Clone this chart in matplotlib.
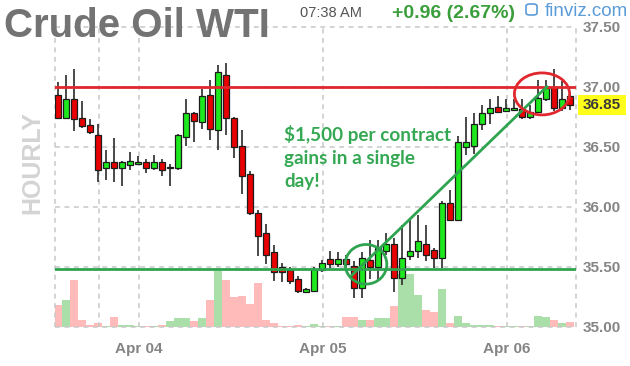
import matplotlib
matplotlib.use("Agg")
import matplotlib.pyplot as plt
import matplotlib.transforms as mtransforms
from matplotlib.patches import Ellipse, Rectangle, FancyBboxPatch
import numpy as np

# ---------------- data ----------------
date_labels = ["Apr 04", "Apr 05", "Apr 06"]
day_starts = [10.125, 33.125, 56.125]      # candle-index position of each day boundary
extra_grid = [5.125]                       # session-open grid line
price_ticks = [35.00, 35.50, 36.00, 36.50, 37.00, 37.50]

opens = [36.93, 36.74, 36.90, 36.74, 36.68, 36.60, 36.32, 36.375, 36.32, 36.35,
         36.36, 36.375, 36.32, 36.375, 36.32, 36.32, 36.58, 36.78, 36.71, 36.93,
         36.64, 37.10, 36.74, 36.51, 36.27, 35.95, 35.78, 35.62, 35.50, 35.47,
         35.40, 35.29, 35.30, 35.47, 35.56, 35.52, 35.56, 35.51, 35.32, 35.555,
         35.50, 35.63, 35.69, 35.41, 35.59, 35.63, 35.69, 35.64, 35.57, 36.03,
         35.89, 36.50, 36.51, 36.69, 36.78, 36.83, 36.80, 36.81, 36.81, 36.75,
         36.79, 36.90, 37.00, 36.82, 36.92]
highs = [37.04, 37.10, 37.15, 36.88, 36.73, 36.69, 36.47, 36.57, 36.38, 36.46,
         36.42, 36.40, 36.43, 36.40, 36.36, 36.61, 36.90, 36.79, 36.98, 37.06,
         37.185, 37.20, 36.75, 36.64, 36.30, 35.97, 35.86, 35.68, 35.53, 35.50,
         35.42, 35.32, 35.50, 35.56, 35.63, 35.62, 35.60, 35.55, 35.62, 35.72,
         35.72, 35.78, 35.74, 35.85, 35.90, 35.93, 35.85, 35.66, 36.05, 36.14,
         36.59, 36.75, 36.78, 36.85, 36.90, 36.92, 36.90, 36.90, 36.90, 36.85,
         37.06, 37.06, 37.15, 37.05, 36.94]
lows = [36.73, 36.73, 36.63, 36.66, 36.61, 36.21, 36.22, 36.21, 36.175, 36.31,
        36.35, 36.28, 36.31, 36.26, 36.175, 36.31, 36.51, 36.54, 36.65, 36.555,
        36.47, 36.60, 36.41, 36.11, 35.93, 35.59, 35.52, 35.38, 35.37, 35.36,
        35.28, 35.28, 35.29, 35.46, 35.49, 35.50, 35.48, 35.24, 35.24, 35.40,
        35.38, 35.60, 35.29, 35.35, 35.56, 35.57, 35.55, 35.49, 35.49, 35.88,
        35.88, 36.43, 36.44, 36.64, 36.69, 36.78, 36.79, 36.80, 36.73, 36.73,
        36.78, 36.88, 36.80, 36.80, 36.81]
closes = [36.74, 36.90, 36.73, 36.67, 36.62, 36.31, 36.375, 36.32, 36.37, 36.38,
          36.37, 36.325, 36.37, 36.31, 36.33, 36.60, 36.78, 36.715, 36.925, 36.65,
          37.12, 36.74, 36.50, 36.26, 35.95, 35.76, 35.60, 35.46, 35.46, 35.38,
          35.30, 35.31, 35.48, 35.53, 35.52, 35.56, 35.52, 35.32, 35.57, 35.50,
          35.66, 35.69, 35.41, 35.57, 35.63, 35.71, 35.60, 35.57, 36.03, 35.89,
          36.54, 36.54, 36.69, 36.78, 36.82, 36.79, 36.82, 36.82, 36.75, 36.79,
          36.91, 36.99, 36.82, 36.90, 36.85]
volume = [2200, 2700, 4700, 700, 150, 330, 50, 930, 130, 130,
          50, 50, 50, 130, 570, 900, 900, 570, 900, 2700,
          5600, 4700, 3000, 3100, 2300, 4400, 700, 330, 50, 50,
          130, 50, 300, 50, 50, 50, 930, 930, 670, 670,
          830, 830, 2070, 5300, 5300, 3200, 1700, 1500, 3800, 400,
          1070, 400, 170, 170, 170, 70, 50, 50, 70, 100,
          1070, 930, 670, 400, 500]

resistance = 37.00
support = 35.48
last_price = 36.85
trend_start = (36.75, 35.43)   # (candle index, price)
trend_end = (61.1, 37.00)
green_circle = (38.5, 35.52)
red_ellipse = (60.5, 36.94)
note_text = "$1,500 per contract\ngains in a single\nday!"

# ---------------- styles ----------------
C_UP = "#1ee81e"
C_DN = "#e80000"
C_EDGE = "#1c1c1c"
C_WICK = "#3a3a3a"
C_VUP = "#aadfaa"
C_VDN = "#ffbaba"
C_GRID = "#c8c8c8"
C_RED = "#e0272e"
C_GREEN = "#2ea44f"
C_LABEL = "#858585"

W, H = 630, 366
fig = plt.figure(figsize=(W / 100, H / 100), dpi=100)
fig.patch.set_facecolor("white")

def fx(px):
    return px / W

def fy(py):
    return 1 - py / H

left_px, right_px, top_px, bot_px = 55, 576, 14, 326.7
pos = [fx(left_px), fy(bot_px), fx(right_px) - fx(left_px), fy(top_px) - fy(bot_px)]

n = len(opens)
idx = np.arange(n)
o = np.array(opens); c = np.array(closes); hi = np.array(highs); lo = np.array(lows)
up = c >= o

xlim = (-0.375, 64.75)
ylim = (35.0, 35.0 + (bot_px - top_px) / 120.0)

# volume axes (behind)
axv = fig.add_axes(pos)
axv.set_xlim(*xlim)
vmax = max(volume)
axv.set_ylim(0, vmax * (bot_px - top_px) / 56.0)
axv.bar(idx, volume, width=1.0, color=[C_VUP if u else C_VDN for u in up], linewidth=0)
axv.axis("off")

# price axes
ax = fig.add_axes(pos)
ax.set_facecolor("none")
ax.set_xlim(*xlim)
ax.set_ylim(*ylim)
for s in ax.spines.values():
    s.set_visible(False)

dash = (0, (3.2, 3.0))
ax.hlines(price_ticks, xlim[0], xlim[1], colors=C_GRID, linestyles=[dash], linewidth=1.1, zorder=1, clip_on=False)
vgrid = [xlim[0]] + extra_grid + day_starts + [xlim[1]]
ax.vlines(vgrid, price_ticks[0], price_ticks[-1], colors=C_GRID, linestyles=[dash], linewidth=1.1, zorder=1, clip_on=False)

# candles
ax.vlines(idx, lo, hi, colors=C_WICK, linewidth=1.3, zorder=3)
bottoms = np.minimum(o, c)
heights = np.maximum(np.abs(c - o), 0.012)
ax.bar(idx, heights, bottom=bottoms, width=0.74, color=[C_UP if u else C_DN for u in up],
       edgecolor=C_EDGE, linewidth=0.9, zorder=4)

# support / resistance / trend
ax.axhline(resistance, color=C_RED, lw=2.0, zorder=5)
ax.axhline(support, color=C_GREEN, lw=2.0, zorder=5)
ax.plot([trend_start[0], trend_end[0]], [trend_start[1], trend_end[1]], color=C_GREEN, lw=2.0, zorder=6)
ax.add_patch(Ellipse(green_circle, 5.2, 0.33, fill=False, ec=C_GREEN, lw=2.0, zorder=6))
ax.add_patch(Ellipse(red_ellipse, 6.9, 0.35, fill=False, ec=C_RED, lw=2.0, zorder=6))

ax.text(28.25, 36.685, note_text, color="#34a853", fontsize=13.6, fontfamily="Lato",
        fontweight="bold", va="top", ha="left", linespacing=1.45, zorder=7)

# ticks
ax.yaxis.tick_right()
ax.set_yticks(price_ticks)
ax.set_yticklabels([f"{t:.2f}" for t in price_ticks])
ax.tick_params(axis="y", length=0, pad=4.5, labelsize=11, labelcolor=C_LABEL)
ax.set_xticks(day_starts)
ax.set_xticklabels(date_labels)
ax.tick_params(axis="x", length=0, pad=11, labelsize=11, labelcolor=C_LABEL)
for lab in ax.get_xticklabels() + ax.get_yticklabels():
    lab.set_fontfamily("Liberation Sans")
    lab.set_fontweight("bold")

# last price box
trans = mtransforms.blended_transform_factory(ax.transAxes, ax.transData)
axw = right_px - left_px
ax.add_patch(Rectangle((1 + 1.7 / axw, last_price - 10 / 120), 48.3 / axw, 20 / 120,
                       transform=trans, fc="#ffff1a", ec="none", clip_on=False, zorder=8))
ax.text(1 + 26 / axw, last_price, f"{last_price:.2f}", transform=trans, ha="center", va="center",
        fontsize=11, fontweight="bold", fontfamily="Liberation Sans", color="#3a3a3a", zorder=9, clip_on=False)

# header
fig.text(fx(4), fy(37), "Crude Oil WTI", fontsize=29, fontweight="bold", fontfamily="Liberation Sans",
         color="#737373", va="baseline", ha="left")
fig.text(fx(300), fy(17), "07:38 AM", fontsize=10.5, fontfamily="Liberation Sans",
         color="#555555", va="baseline", ha="left")
fig.text(fx(392), fy(18), "+0.96 (2.67%)", fontsize=14, fontweight="bold", fontfamily="Liberation Sans",
         color="#3a9e3a", va="baseline", ha="left")
fig.text(fx(628), fy(15.5), "finviz.com", fontsize=13.5, fontfamily="Liberation Sans",
         color="#5a9bd8", va="baseline", ha="right")
fig.add_artist(FancyBboxPatch((fx(526), fy(15)), fx(11), fy(4) - fy(15),
                              boxstyle="round,pad=0,rounding_size=0.006", fill=False,
                              ec="#5a9bd8", lw=1.2, transform=fig.transFigure))

fig.text(fx(32), fy(162), "HOURLY", rotation=90, fontsize=18, fontweight="bold",
         fontfamily="Liberation Sans", color="#d4d4d4", va="center", ha="center")

fig.savefig("out.png", dpi=100)
